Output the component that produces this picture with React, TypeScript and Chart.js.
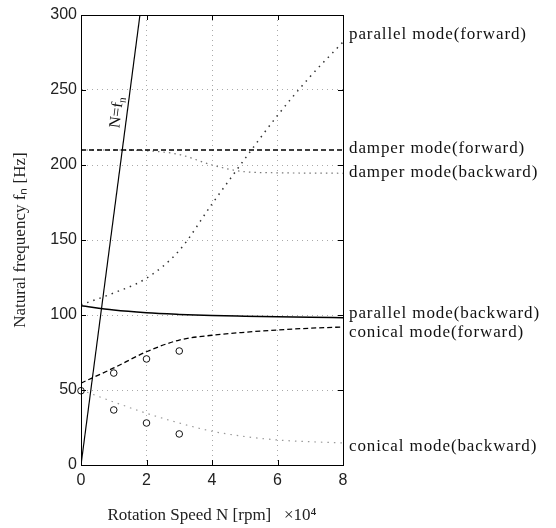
import React, { useEffect, useRef } from "react";
import { Chart, registerables } from "chart.js";

Chart.register(...registerables);

// Rotation speed (×10^4 rpm) sample points for the computed curves
const speedX = [0, 1, 2, 3, 4, 5, 6, 7, 8];
const parallelForward = [106.8, 114.7, 124.5, 143, 174, 204, 233, 259, 282];
const parallelBackward = [106.2, 103.3, 101.5, 100.4, 99.6, 99.2, 98.9, 98.5, 98.2];
const damperForward = [210, 210, 210, 210, 210, 210, 210, 210, 210];
const damperBackward = [210, 210, 209.5, 207, 200, 195.5, 194.8, 194.6, 194.5];
const conicalForward = [54.6, 64.7, 75.5, 83.3, 86.5, 88.5, 90, 91.2, 92];
const conicalBackward = [50, 42, 34.5, 28, 22.5, 19, 16.7, 15.5, 14.7];

// N = f_n line
const syncX = [0, 1.8];
const syncY = [0, 300];

// Experimental points (circles)
const expX = [0, 1, 1, 2, 2, 3, 3];
const expY = [49.5, 61.3, 36.7, 70.7, 28, 76, 20.7];

// Tick values
const xTicks = [0, 2, 4, 6, 8];
const yTicks = [0, 50, 100, 150, 200, 250, 300];

// Mode labels on the right (text and Hz level)
const modeLabels = [
  "parallel mode(forward)",
  "damper mode(forward)",
  "damper mode(backward)",
  "parallel mode(backward)",
  "conical mode(forward)",
  "conical mode(backward)",
];
const modeLabelHz = [287, 211, 195, 101, 88, 12];

// N=f_n annotation position (data units)
const syncLabelAt = [1.1, 235];

const pts = (xs: number[], ys: number[]) => xs.map((x, i) => ({ x, y: ys[i] }));

const decor = {
  id: "decor",
  afterDraw(chart: any) {
    const { ctx, chartArea: a, scales } = chart;
    const xs = scales.x;
    const ys = scales.y;
    ctx.save();
    ctx.strokeStyle = "#000";
    ctx.lineWidth = 1;
    ctx.setLineDash([]);
    ctx.strokeRect(Math.round(a.left) + 0.5, Math.round(a.top) + 0.5, Math.round(a.right - a.left), Math.round(a.bottom - a.top));
    const seg = (x1: number, y1: number, x2: number, y2: number) => {
      ctx.beginPath();
      ctx.moveTo(x1, y1);
      ctx.lineTo(x2, y2);
      ctx.stroke();
    };
    yTicks.forEach((v) => {
      const py = Math.round(ys.getPixelForValue(v)) + 0.5;
      seg(a.left, py, a.left + 5, py);
      seg(a.right - 5, py, a.right, py);
    });
    xTicks.forEach((v) => {
      const px = Math.round(xs.getPixelForValue(v)) + 0.5;
      seg(px, a.bottom, px, a.bottom - 5);
      seg(px, a.top, px, a.top + 5);
    });

    // right-hand labels
    ctx.fillStyle = "#111";
    ctx.font = '17px "Liberation Serif"';
    (ctx as any).letterSpacing = "0.9px";
    ctx.textAlign = "left";
    ctx.textBaseline = "middle";
    modeLabels.forEach((t, i) => {
      ctx.fillText(t, a.right + 6, ys.getPixelForValue(modeLabelHz[i]));
    });

    // N=f_n label rotated along the line
    const ang = Math.atan2(
      ys.getPixelForValue(syncY[1]) - ys.getPixelForValue(syncY[0]),
      xs.getPixelForValue(syncX[1]) - xs.getPixelForValue(syncX[0])
    );
    const px = xs.getPixelForValue(syncLabelAt[0]);
    const py = ys.getPixelForValue(syncLabelAt[1]);
    ctx.translate(px, py);
    ctx.rotate(ang);
    (ctx as any).letterSpacing = "0px";
    ctx.font = '16px "Liberation Serif"';
    ctx.textAlign = "left";
    const main = "N=f";
    const w = ctx.measureText(main).width;
    ctx.font = '11px "Liberation Serif"';
    const ws = ctx.measureText("n").width;
    const start = -(w + ws) / 2;
    ctx.font = '16px "Liberation Serif"';
    ctx.fillText(main, start, 0);
    ctx.font = '11px "Liberation Serif"';
    ctx.fillText("n", start + w, 4);
    ctx.restore();
  },
};

export default function App() {
  const ref = useRef<HTMLCanvasElement | null>(null);
  useEffect(() => {
    if (!ref.current) return;
    const dotted = (color: string, dash: number[], width = 1.3) => ({
      showLine: true,
      borderColor: color,
      borderWidth: width,
      borderDash: dash,
      pointRadius: 0,
      cubicInterpolationMode: "monotone" as const,
      fill: false,
    });
    const chart = new Chart(ref.current, {
      type: "scatter",
      data: {
        datasets: [
          { label: "N=fn", data: pts(syncX, syncY), ...dotted("#000", [], 1.2) },
          { label: "parallel forward", data: pts(speedX, parallelForward), ...dotted("#333", [1.5, 5], 1.5) },
          { label: "parallel backward", data: pts(speedX, parallelBackward), ...dotted("#000", [], 1.5) },
          { label: "damper forward", data: pts(speedX, damperForward), ...dotted("#000", [5, 3], 1.3) },
          { label: "damper backward", data: pts(speedX, damperBackward), ...dotted("#777", [1.5, 4], 1.2) },
          { label: "conical forward", data: pts(speedX, conicalForward), ...dotted("#000", [5, 3], 1.3) },
          { label: "conical backward", data: pts(speedX, conicalBackward), ...dotted("#999", [1.5, 5], 1.2) },
          {
            label: "experiment",
            data: pts(expX, expY),
            showLine: false,
            clip: 6,
            pointRadius: 3.3,
            pointStyle: "circle",
            pointBackgroundColor: "#fff",
            pointBorderColor: "#111",
            pointBorderWidth: 1,
          },
        ],
      },
      options: {
        animation: false,
        responsive: false,
        maintainAspectRatio: false,
        layout: { padding: { top: 15, right: 213, bottom: 0, left: 0 } },
        plugins: { legend: { display: false }, tooltip: { enabled: false } },
        scales: {
          x: {
            type: "linear",
            min: 0,
            max: 8,
            afterFit: (s: any) => {
              s.height = 63;
            },
            afterBuildTicks: (s: any) => {
              s.ticks = xTicks.map((v) => ({ value: v }));
            },
            ticks: {
              color: "#222",
              font: { family: "Liberation Sans", size: 16 },
              padding: 6,
            },
            grid: { color: "#aaa", lineWidth: 1, drawTicks: false },
            border: { display: true, color: "#000", dash: [1, 4] },
            title: {
              display: true,
              text: "Rotation Speed N [rpm]   ×10⁴",
              color: "#222",
              font: { family: "Liberation Serif", size: 17 },
              padding: { top: 0, bottom: 2 },
            },
          },
          y: {
            type: "linear",
            min: 0,
            max: 300,
            afterFit: (s: any) => {
              s.width = 81;
            },
            afterBuildTicks: (s: any) => {
              s.ticks = yTicks.map((v) => ({ value: v }));
            },
            ticks: {
              color: "#222",
              font: { family: "Liberation Sans", size: 16 },
              padding: 4,
            },
            grid: { color: "#aaa", lineWidth: 1, drawTicks: false },
            border: { display: true, color: "#000", dash: [1, 4] },
            title: {
              display: true,
              text: "Natural frequency fₙ [Hz]",
              color: "#222",
              font: { family: "Liberation Serif", size: 17 },
              padding: { top: 10, bottom: 0 },
            },
          },
        },
      },
      plugins: [decor],
    });
    return () => chart.destroy();
  }, []);
  return (
    <div style={{ position: "absolute", left: 0, top: 0, width: 556, height: 528, background: "#fff" }}>
      <canvas ref={ref} width={556} height={528} style={{ display: "block" }} />
    </div>
  );
}
